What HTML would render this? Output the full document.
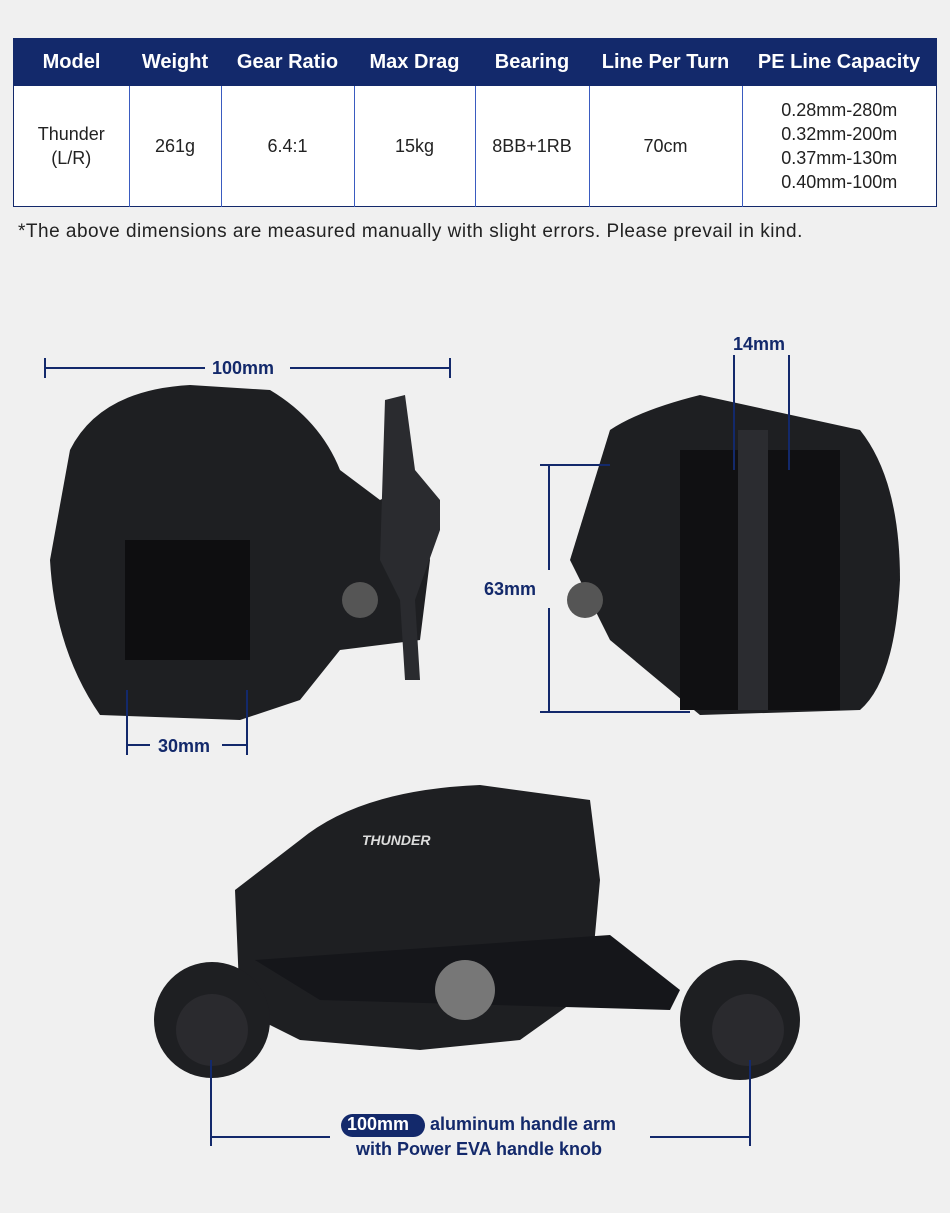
<!DOCTYPE html>
<html><head><meta charset="utf-8"><style>
body{margin:0;width:950px;height:1213px;background:#f0f0f0;position:relative;overflow:hidden;font-family:"Liberation Sans",sans-serif}
.a{position:absolute}
table{position:absolute;left:13px;top:38px;width:924px;border-collapse:collapse;background:#fff;border:1px solid #13296b}
th{background:#13296b;color:#fff;font-size:20px;font-weight:bold;height:47px;padding:0}
td{border-left:1px solid #3a5bc0;text-align:center;font-size:18px;color:#222;height:120px;padding:0;line-height:24px}
td:first-child{border-left:none}
.nv{color:#13296b;font-weight:bold;font-size:18px}
</style></head><body>
<table><tr><th style="width:115px">Model</th><th style="width:92px">Weight</th><th style="width:133px">Gear Ratio</th><th style="width:121px">Max Drag</th><th style="width:114px">Bearing</th><th style="width:153px">Line Per Turn</th><th>PE Line Capacity</th></tr>
<tr><td>Thunder<br>(L/R)</td><td>261g</td><td>6.4:1</td><td>15kg</td><td>8BB+1RB</td><td>70cm</td><td>0.28mm-280m<br>0.32mm-200m<br>0.37mm-130m<br>0.40mm-100m</td></tr></table>
<div class="a" style="left:18px;top:221px;font-size:19px;letter-spacing:0.5px;color:#222">*The above dimensions are measured manually with slight errors. Please prevail in kind.</div>
<svg class="a" style="left:0;top:0" width="950" height="1213">
<g fill="#1e1f22">
<path d="M70 450 Q100 390 190 385 L270 390 Q320 420 340 470 L380 500 L420 480 L430 560 L420 640 L340 650 L300 700 L240 720 L100 715 Q55 650 50 560 Z"/>
<path d="M385 400 L405 395 L415 470 L440 500 L440 530 L415 600 L420 680 L405 680 L400 600 L380 560 Z" fill="#2a2b2f"/>
<rect x="125" y="540" width="125" height="120" fill="#0e0e10"/>
<circle cx="360" cy="600" r="18" fill="#555"/>
<path d="M610 430 Q640 410 700 395 L860 430 Q900 480 900 580 Q895 680 860 710 L700 715 L610 640 L570 560 Z"/>
<rect x="680" y="450" width="160" height="260" fill="#101012"/>
<rect x="738" y="430" width="30" height="280" fill="#2b2c30"/>
<circle cx="585" cy="600" r="18" fill="#555"/>
<path d="M300 840 Q360 790 480 785 L590 800 L600 880 L590 990 L520 1040 L420 1050 L300 1040 L240 1010 L235 890 Z"/>
<path d="M255 960 L610 935 L680 990 L670 1010 L320 1000 Z" fill="#15161a"/>
<circle cx="212" cy="1020" r="58"/><circle cx="212" cy="1030" r="36" fill="#2a2a2e"/>
<circle cx="740" cy="1020" r="60"/><circle cx="748" cy="1030" r="36" fill="#2a2a2e"/>
<circle cx="465" cy="990" r="30" fill="#777"/>
</g>
<g stroke="#13296b" stroke-width="2" fill="none">
<path d="M45 358V378M450 358V378M45 368H205M290 368H450"/>
<path d="M127 690V755M247 690V755M127 745H150M222 745H247"/>
<path d="M734 355V470M789 355V470"/>
<path d="M540 465H610M540 712H690M549 465V570M549 608V712"/>
<path d="M211 1060V1146M750 1060V1146M211 1137H330M650 1137H750"/>
</g>
<rect x="341" y="1114" width="84" height="23" rx="11.5" fill="#13296b"/>
</svg>
<div class="a nv" style="left:212px;top:358px">100mm</div>
<div class="a nv" style="left:158px;top:736px">30mm</div>
<div class="a nv" style="left:733px;top:334px">14mm</div>
<div class="a nv" style="left:484px;top:579px">63mm</div>
<div class="a nv" style="left:347px;top:1114px;color:#fff">100mm</div>
<div class="a nv" style="left:430px;top:1114px">aluminum handle arm</div>
<div class="a nv" style="left:356px;top:1139px">with Power EVA handle knob</div>
<div class="a" style="left:362px;top:832px;color:#ddd;font-weight:bold;font-style:italic;font-size:14px">THUNDER</div>
</body></html>
